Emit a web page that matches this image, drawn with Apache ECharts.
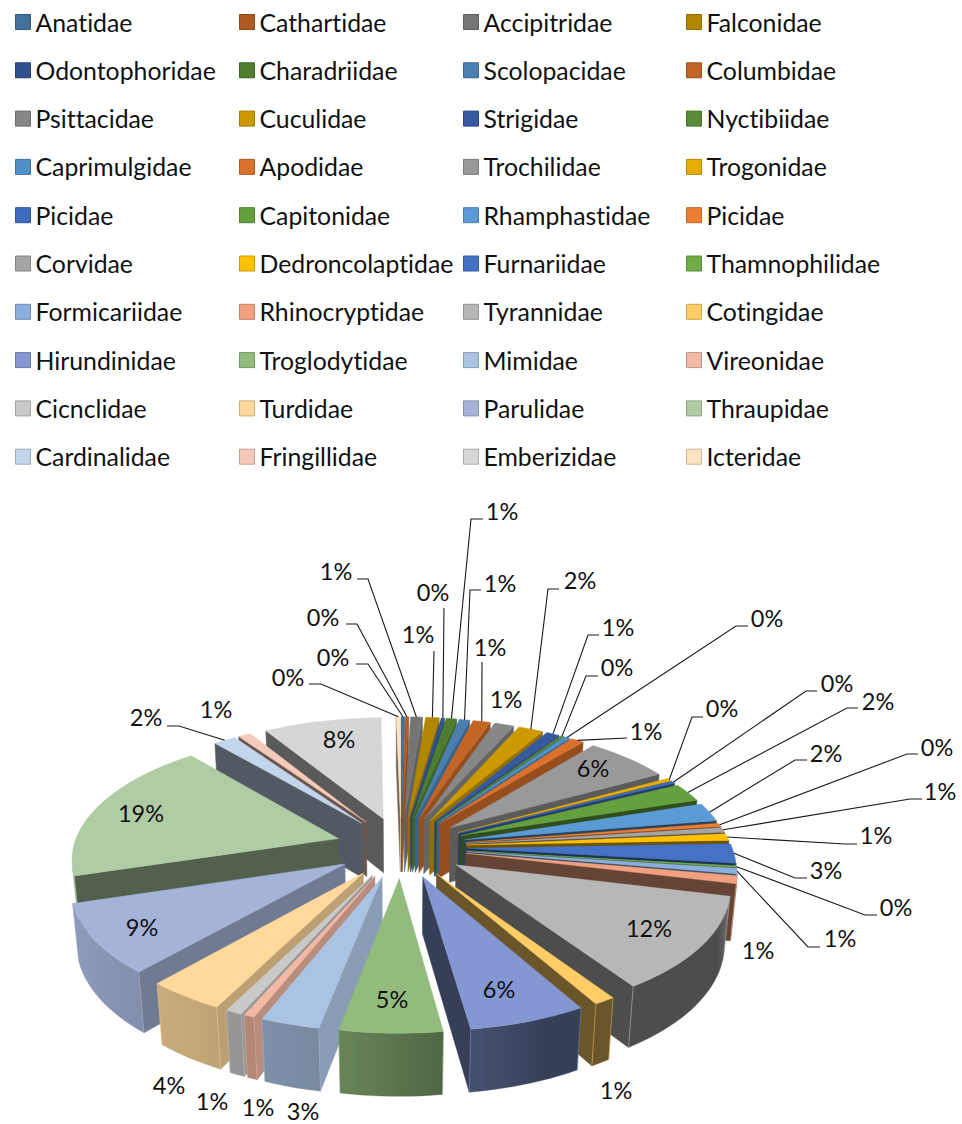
<!DOCTYPE html>
<html><head><meta charset="utf-8">
<style>html,body{margin:0;padding:0;background:#fff}#c{width:962px;height:1124px}svg text{font-variant-ligatures:none;font-feature-settings:"liga" 0,"clig" 0}</style>
<script src="https://cdn.jsdelivr.net/npm/echarts@6/dist/echarts.min.js"></script>
</head><body><div id="c"></div>
<script>
const families = ['Anatidae','Cathartidae','Accipitridae','Falconidae','Odontophoridae','Charadriidae','Scolopacidae','Columbidae','Psittacidae','Cuculidae','Strigidae','Nyctibiidae','Caprimulgidae','Apodidae','Trochilidae','Trogonidae','Picidae','Capitonidae','Rhamphastidae','Picidae','Corvidae','Dedroncolaptidae','Furnariidae','Thamnophilidae','Formicariidae','Rhinocryptidae','Tyrannidae','Cotingidae','Hirundinidae','Troglodytidae','Mimidae','Vireonidae','Cicnclidae','Turdidae','Parulidae','Thraupidae','Cardinalidae','Fringillidae','Emberizidae','Icteridae'];
const shares = [0.22,0.23,0.85,0.96,0.23,0.75,0.75,1.24,1.39,1.78,0.93,0.2,0.42,0.92,6.03,0.4,0.3,2.4,2.4,0.45,0.65,0.9,2.5,0.2,0.7,1.0,11.9,1.1,6.0,5.2,3.0,0.55,0.85,4.0,8.8,18.6,1.6,0.9,8.4,0.3];
const percentLabels = ['0%','0%','1%','1%','0%','1%','1%','1%','1%','2%','1%','0%','0%','1%','6%','0%','0%','2%','2%','0%','1%','1%','3%','0%','1%','1%','12%','1%','6%','5%','3%','1%','1%','4%','9%','19%','2%','1%','8%','0%'];
const colors = ['#41719c','#ae5a21','#757575','#b38600','#2f528f','#4e7d2f','#4a7fb0','#c36527','#878787','#cc9a00','#3759a0','#588c37','#5090c8','#dc712d','#999999','#e6ad00','#3e6cbf','#65a03f','#5b9bd5','#ed7d31','#a5a5a5','#ffc000','#4472c4','#70ad47','#8caedd','#f1a17f','#b7b7b7','#ffcc66','#8497d2','#93bb7d','#abc3e3','#f4b9a4','#c9c9c9','#ffd89b','#a5b3d9','#b0cca4','#c3d5ea','#f6cabb','#d6d6d6','#fde3c0'];
// label centres and leader elbows (annotation layout, pixels)
const labelCentres = [[333,657],[323,617],[336,571],[418,634],[433,592],[502,511],[500,583],[490,647],[506,699],[580,580],[618,627],[617,667],[767,618],[646,731],[593,768],[722,708],[837,683],[878,701],[826,753],[937,747],[940,791],[876,835],[826,870],[896,907],[840,938],[758,950],[649,928],[616,1090],[499,989],[392,999],[303,1111],[258,1107],[212,1101],[169,1085],[142,927],[141,813],[146,717],[216,709],[339,739],[288,677]];
const leaderElbows = [[[356,664],[368,664]],[[346,624],[357,624]],[[357,579],[368,579]],[[434,651]],[[444,608]],[[483,519],[471,519]],[[481,590],[470,590]],[[482,662]],null,[[559,589],[548,589]],[[599,635],[588,635]],[[598,676],[586,676]],[[748,626],[736,626]],[[627,738]],null,[[703,717],[692,717]],[[817,691],[806,691]],[[858,708],[847,708]],[[807,760],[795,760]],[[918,754],[907,754]],[[922,799],[910,799]],[[857,844],[845,844]],[[807,878],[795,878]],[[877,915],[865,915]],[[820,947],[808,947]],null,null,null,null,null,null,null,null,null,null,null,[[167,726],[179,726]],null,null,[[309,684],[321,684]]];

// view model of the pie
const cx=401, cy=847, focal=1654, dist=6.24, tilt=27.6*Math.PI/180, explode=0.248, height=0.24;
const sinT=Math.sin(tilt), cosT=Math.cos(tilt), TAU=Math.PI*2;
const total=shares.reduce((a,b)=>a+b,0);
function proj(x,y,z){const k=focal/(dist+y*cosT-z*sinT);return [cx+k*x, cy-k*(y*sinT+z*cosT)];}
function shade(hex,f){const n=parseInt(hex.slice(1),16);const ch=v=>Math.round(v*f);return `rgb(${ch(n>>16&255)},${ch(n>>8&255)},${ch(n&255)})`;}
function lerpTable(t,v){if(v<=t[0][0])return t[0][1];for(let i=1;i<t.length;i++){if(v<=t[i][0]){const a=t[i-1],b=t[i];return a[1]+(b[1]-a[1])*(v-a[0])/(b[0]-a[0]);}}return t[t.length-1][1];}
const radialShade=[[90,.85],[150,.6],[168,.42]];
const outerShade=[[105,.7],[118,.42],[160,.42],[190,.7],[240,.85],[260,.88]];
const deg=a=>((a*180/Math.PI)%360+360)%360;
let acc=0;
const slices=shares.map((v,i)=>{const a0=acc/total*TAU;acc+=v;const a1=acc/total*TAU;return {i,a0,a1,mid:(a0+a1)/2};});
function area(p){let s=0;for(let i=0;i<p.length;i++){const q=p[(i+1)%p.length];s+=p[i][0]*q[1]-q[0]*p[i][1];}return s/2;}
function outerPoint(s,a){const ex=explode*Math.sin(s.mid),ey=explode*Math.cos(s.mid);return [ex+Math.sin(a),ey+Math.cos(a)];}
function renderSlice(s){
  const col=colors[s.i];
  const ex=explode*Math.sin(s.mid),ey=explode*Math.cos(s.mid);
  const n=Math.max(1,Math.ceil((s.a1-s.a0)/(2*Math.PI/180)));
  const pts=[[ex,ey]];
  for(let k=0;k<=n;k++){pts.push(outerPoint(s,s.a0+(s.a1-s.a0)*k/n));}
  const kids=[];
  const m=pts.length;
  const topP=p=>proj(p[0],p[1],0), botP=p=>proj(p[0],p[1],-height);
  const wall=(P,Q)=>[topP(P),topP(Q),botP(Q),botP(P)];
  // straight walls
  const starts=wall(pts[0],pts[1]);
  if(area(starts)<0){const c=shade(col,lerpTable(radialShade,deg(s.a0-Math.PI/2)));kids.push({type:'polygon',shape:{points:starts},style:{fill:c,stroke:c,lineWidth:.5}});}
  const ends=wall(pts[m-1],pts[0]);
  if(area(ends)<0){const c=shade(col,lerpTable(radialShade,deg(s.a1+Math.PI/2)));kids.push({type:'polygon',shape:{points:ends},style:{fill:c,stroke:c,lineWidth:.5}});}
  // curved outer wall as one shape with a gradient along x
  const vis=[];
  for(let k=1;k<m-1;k++){ if(area(wall(pts[k],pts[k+1]))<0) vis.push(k); }
  if(vis.length){
    const first=vis[0], last=vis[vis.length-1]+1;
    const arc=pts.slice(first,last+1);
    const poly=arc.map(topP).concat(arc.slice().reverse().map(botP));
    const xs=arc.map(p=>topP(p)[0]);
    const x0=xs[0], x1=xs[xs.length-1];
    const span=(x1-x0)||1;
    const stops=vis.map((k,j)=>{
      const a=s.a0+(s.a1-s.a0)*(k-.5)/n;
      return {offset:Math.min(1,Math.max(0,(xs[j]-x0)/span)),color:shade(col,lerpTable(outerShade,deg(a)))};
    });
    stops.sort((p,q)=>p.offset-q.offset);
    const fill=stops.length>1?{type:'linear',x:x0,y:0,x2:x1,y2:0,global:true,colorStops:stops}:stops[0].color;
    kids.push({type:'polygon',shape:{points:poly},style:{fill,stroke:stops[0].color,lineWidth:.3}});
  }
  // light corner edges where walls meet
  [pts[1],pts[m-1]].forEach(P=>{
    const A=topP(P),B=botP(P);
    if(P[1]<ey) kids.push({type:'line',shape:{x1:A[0],y1:A[1],x2:B[0],y2:B[1]},style:{stroke:shade(col,.95),opacity:.5,lineWidth:1}});
  });
  kids.push({type:'polygon',shape:{points:pts.map(topP)},style:{fill:col,stroke:col,lineWidth:.4}});
  return {type:'group',children:kids};
}
const order=slices.slice().sort((a,b)=>Math.cos(b.mid)-Math.cos(a.mid));
const seriesNames=families.map((n,i)=>families.indexOf(n)<i?n+' ':n);
const series=order.map(s=>({
  type:'custom',coordinateSystem:'none',name:seriesNames[s.i],silent:true,
  itemStyle:{color:colors[s.i]},
  data:[{value:shares[s.i],name:seriesNames[s.i]}],
  renderItem:()=>renderSlice(s)
}));
series.push({
  type:'custom',coordinateSystem:'none',name:'labels',silent:true,z:10,
  data:percentLabels.map((t,i)=>({value:i})),
  renderItem:(p)=>{
    const i=p.dataIndex,s=slices[i],kids=[];
    const e=leaderElbows[i];
    if(e){
      const o=outerPoint(s,s.mid),end=proj(o[0],o[1],0);
      kids.push({type:'polyline',shape:{points:[...e,end]},style:{stroke:'#1a1a1a',lineWidth:1.1,fill:null}});
    }
    kids.push({type:'text',style:{text:percentLabels[i],x:labelCentres[i][0],y:labelCentres[i][1],align:'center',verticalAlign:'middle',fill:'#111',font:'23.5px Lato'}});
    return {type:'group',children:kids};
  }
});
const colX=[15,239,463,686];
const legend=colX.map((x,c)=>({
  type:'plain',orient:'vertical',left:x,top:8,padding:0,itemGap:20.3,itemWidth:15,itemHeight:15,icon:'rect',
  selectedMode:false,
  formatter:n=>n.trim(),
  textStyle:{fontFamily:'Lato',fontSize:24.8,color:'#111',lineHeight:28},
  data:seriesNames.map((n,i)=>({name:n,i})).filter(d=>d.i%4===c).map(d=>({name:d.name,itemStyle:{borderColor:shade(colors[d.i],.8),borderWidth:1}}))
}));
const chart=echarts.init(document.getElementById('c'),null,{renderer:'svg'});
chart.setOption({animation:false,backgroundColor:'#fff',legend,series});
</script></body></html>
